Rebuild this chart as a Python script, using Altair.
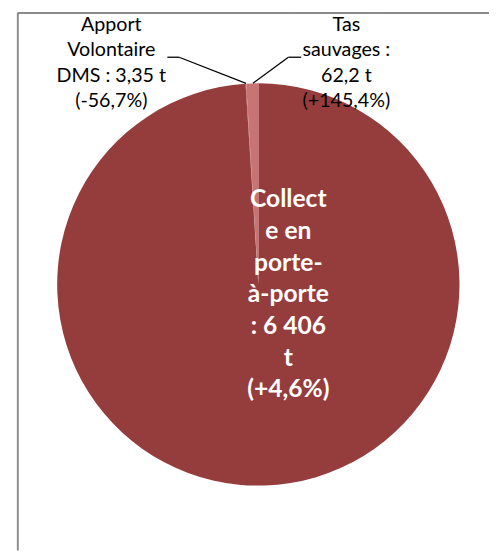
import altair as alt
import pandas as pd

# ---- data ----
categories = ["Collecte en porte-à-porte", "Apport Volontaire DMS", "Tas sauvages"]
tonnages = [6406, 3.35, 62.2]
evolutions = ["+4,6%", "-56,7%", "+145,4%"]
slice_order = [0, 1, 2]
slice_colors = ["#953C3C", "#B35555", "#C97474"]

title_text = "6 472 tonnes (+5,1%)"
label_collecte = "Collect\ne en\nporte-\nà-porte\n: 6 406\nt\n(+4,6%)"
label_apport = "Apport\nVolontaire\nDMS : 3,35 t\n(-56,7%)"
label_tas = "Tas\nsauvages :\n62,2 t\n(+145,4%)"

df = pd.DataFrame({"cat": categories, "t": tonnages, "ordre": slice_order,
                   "evol": evolutions})

W, H = 489, 547
CX, CY, R = 254.5, 276.5, 204.5
FONT = "Lato"

pie = alt.Chart(df).mark_arc(outerRadius=R, strokeWidth=0).encode(
    theta=alt.Theta("t:Q", stack=True),
    order=alt.Order("ordre:Q"),
    color=alt.Color("cat:N", scale=alt.Scale(domain=categories, range=slice_colors),
                    legend=None),
    x=alt.value(CX),
    y=alt.value(CY),
)

lab_df = pd.DataFrame({"k": ["apport", "tas", "collecte", "title"],
                       "txt": [label_apport, label_tas, label_collecte, title_text]})


def text_layer(key, x, y, size, color, weight="normal", lh=None, baseline="top"):
    kw = {}
    if lh is not None:
        kw["lineHeight"] = lh
    return alt.Chart(lab_df).transform_filter(alt.datum.k == key).mark_text(
        lineBreak="\n", font=FONT, fontSize=size, color=color, fontWeight=weight,
        align="center", baseline=baseline, **kw
    ).encode(text="txt:N", x=alt.value(x), y=alt.value(y))


t_apport = text_layer("apport", 105, 3, 20, "#000000", lh=25.7)
t_tas = text_layer("tas", 344, 3, 20, "#000000", lh=25.7)
t_collecte = text_layer("collecte", 285, 178, 25, "#FFFFFF", weight="bold", lh=32.2)
t_title = text_layer("title", 247, -3, 28, "#1F1FC8", weight="bold", baseline="bottom")

line_color = "#000000"


def seg(x1, y1, x2, y2):
    return alt.Chart(lab_df).transform_filter(alt.datum.k == "title").mark_rule(
        color=line_color, strokeWidth=1.3
    ).encode(x=alt.value(x1), y=alt.value(y1), x2=alt.value(x2), y2=alt.value(y2))


lines = [
    seg(162, 45.5, 174, 45.5), seg(174, 45.5, 242, 72),
    seg(298, 45.5, 285, 45.5), seg(285, 45.5, 249, 72),
]

frame = [
    alt.Chart(lab_df).transform_filter(alt.datum.k == "title").mark_rule(
        color="#8C8C8C", strokeWidth=2
    ).encode(x=alt.value(10), x2=alt.value(W), y=alt.value(0.5), y2=alt.value(0.5)),
    alt.Chart(lab_df).transform_filter(alt.datum.k == "title").mark_rule(
        color="#8C8C8C", strokeWidth=2
    ).encode(x=alt.value(10), x2=alt.value(10), y=alt.value(0), y2=alt.value(H)),
]

chart = alt.layer(
    *frame, pie, *lines, t_apport, t_tas, t_collecte, t_title
).properties(
    width=W, height=H, padding=0,
    autosize=alt.AutoSizeParams(type="none"),
).configure_view(stroke=None)

chart.save("out.html", embed_options={"renderer": "svg", "actions": False})
